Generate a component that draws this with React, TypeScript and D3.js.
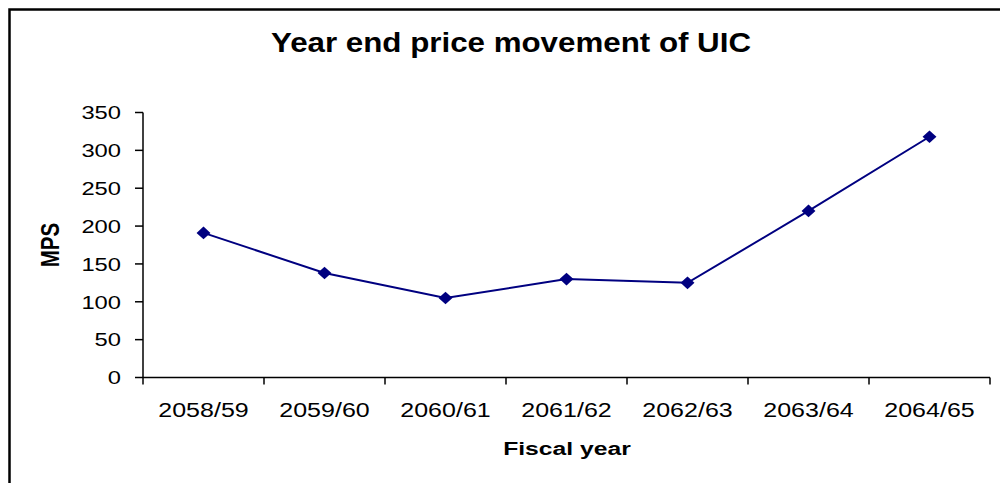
import React from "react";
import * as d3 from "d3";

const categories = ["2058/59", "2059/60", "2060/61", "2061/62", "2062/63", "2063/64", "2064/65"];
const values = [191, 138, 105, 130, 125, 220, 318];
const yTicks = [0, 50, 100, 150, 200, 250, 300, 350];
const title = "Year end price movement of UIC";
const xTitle = "Fiscal year";
const yTitle = "MPS";

export default function App() {
  const W = 1000, H = 483;
  const left = 143, right = 990, top = 112.5, bottom = 377.5;
  const x = d3.scaleBand().domain(categories).range([left, right]);
  const y = d3.scaleLinear().domain([0, 350]).range([bottom, top]);
  const cx = (i: number) => (x(categories[i]) as number) + x.bandwidth() / 2;
  const line = d3.line<number>()
    .x((_, i) => cx(i))
    .y((d) => y(d));
  const font = "'Liberation Sans', Arial, sans-serif";
  const boundaries = categories.map((c) => x(c) as number).concat([right]);
  const marker = d3.symbol().type(d3.symbolSquare).size(80)();
  return (
    <svg width={W} height={H} style={{ position: "absolute", left: 0, top: 0, background: "#fff" }} fontFamily={font}>
      <rect x={0} y={0} width={W} height={H} fill="#fff" />
      <rect x={9.5} y={9.5} width={1100} height={600} fill="none" stroke="#000" strokeWidth={2.5} />
      <text transform={`translate(511,52) scale(1.16,1)`} textAnchor="middle" fontSize={27} fontWeight="bold" fill="#000">{title}</text>
      {/* y axis */}
      <line x1={left} x2={left} y1={top} y2={bottom} stroke="#000" strokeWidth={1.5} />
      {yTicks.map((t) => (
        <g key={t}>
          <line x1={left - 8} x2={left} y1={y(t)} y2={y(t)} stroke="#000" strokeWidth={1.5} />
          <text transform={`translate(121,${y(t)}) scale(1.25,1)`} textAnchor="end" dy="0.36em" fontSize={19} fill="#000">{t}</text>
        </g>
      ))}
      {/* x axis */}
      <line x1={left} x2={right} y1={bottom} y2={bottom} stroke="#000" strokeWidth={1.5} />
      {boundaries.map((b, i) => (
        <line key={i} x1={b} x2={b} y1={bottom} y2={bottom + 7} stroke="#000" strokeWidth={1.5} />
      ))}
      {categories.map((c, i) => (
        <text key={c} transform={`translate(${cx(i)},417) scale(1.22,1)`} textAnchor="middle" fontSize={20.5} fill="#000">{c}</text>
      ))}
      <text transform={`translate(567,455) scale(1.3,1)`} textAnchor="middle" fontSize={19} fontWeight="bold" fill="#000">{xTitle}</text>
      <text transform={`translate(59,245) rotate(-90) scale(1.08,1.35)`} textAnchor="middle" fontSize={19} fontWeight="bold" fill="#000">{yTitle}</text>
      {/* series */}
      <path d={line(values) as string} fill="none" stroke="#000080" strokeWidth={2} />
      {values.map((v, i) => (
        <path key={i} d={marker} transform={`translate(${cx(i)},${y(v)}) scale(1.1,1) rotate(45)`} fill="#000080" />
      ))}
    </svg>
  );
}
